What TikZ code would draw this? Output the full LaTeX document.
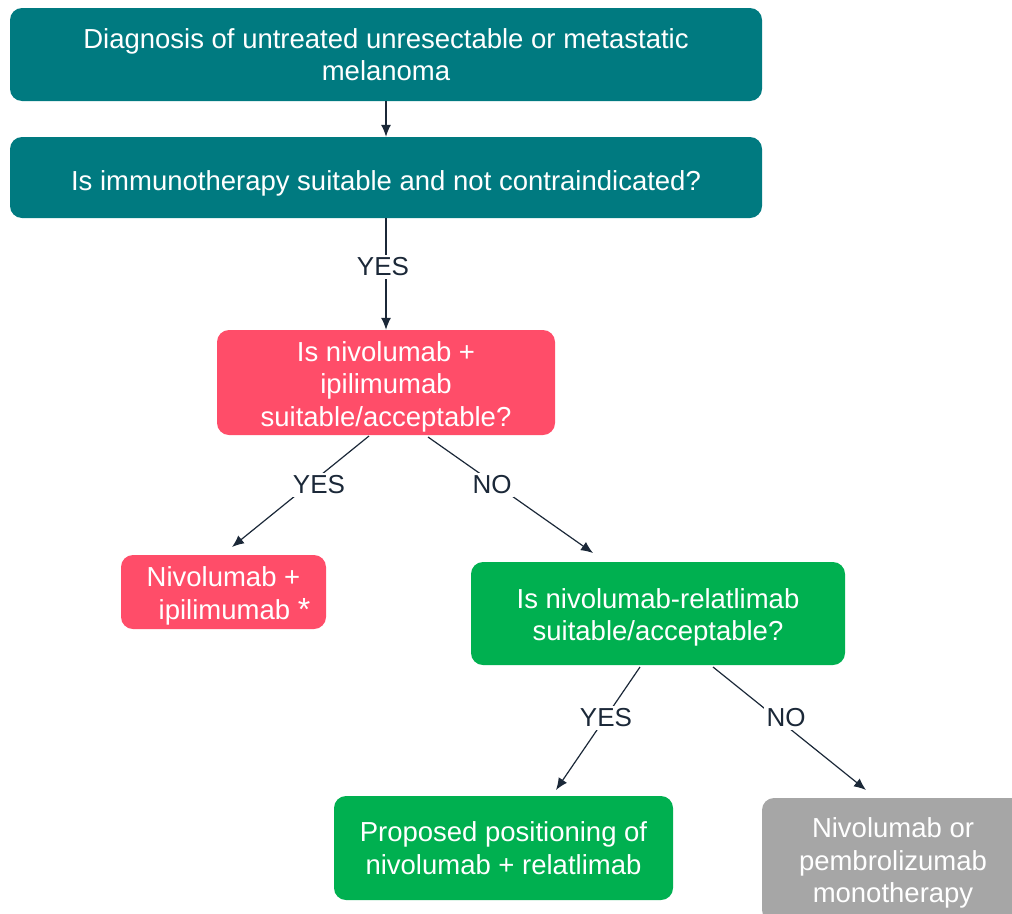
\documentclass[tikz,border=0pt]{standalone}
\usepackage{fontspec}
\setmainfont{Liberation Sans}
\usetikzlibrary{arrows.meta}
\definecolor{tealbox}{HTML}{007A80}
\definecolor{pinkbox}{HTML}{FF4D69}
\definecolor{greenbox}{HTML}{00B050}
\definecolor{greybox}{HTML}{A6A6A6}
\definecolor{navy}{HTML}{1B2838}
\newcommand{\topstrut}[1]{\rule{0pt}{#1pt}}
\begin{document}
\begin{tikzpicture}[x=1pt,y=-1pt,
  box/.style={rounded corners=12pt, text=white, align=center,
    font=\fontsize{27.5}{32.5}\selectfont, inner sep=0pt, draw=none},
  lab/.style={font=\fontsize{26}{30}\selectfont, text=navy, fill=white, inner sep=2.5pt},
  conn/.style={draw=navy, line width=1.2pt},
  arr/.style={conn, -{Latex[length=12pt,width=10pt]}}]
\useasboundingbox (0,0) rectangle (1012,913);
\clip (0,0) rectangle (1012,913);
% boxes
\node[box, fill=tealbox, minimum width=752pt, minimum height=93pt] (diag) at (386,54.5)
  {Diagnosis of untreated unresectable or metastatic\\melanoma};
\node[box, fill=tealbox, minimum width=752pt, minimum height=81pt] (immuno) at (386,177.5)
  {\topstrut{32}Is immunotherapy suitable and not contraindicated?};
\node[box, fill=pinkbox, minimum width=338pt, minimum height=105pt] (nivipiq) at (386,382.5)
  {\topstrut{28}Is nivolumab +\\ipilimumab\\suitable/acceptable?};
\node[box, fill=pinkbox, minimum width=205pt, minimum height=74pt] (nivipi) at (223.5,592)
  {\topstrut{28}Nivolumab +\\\hspace*{22pt}ipilimumab {\fontsize{32}{32}\selectfont\raisebox{-1pt}{*}}};
\node[box, fill=greenbox, minimum width=374pt, minimum height=103pt] (relq) at (658,613.5)
  {\topstrut{28}Is nivolumab-relatlimab\\suitable/acceptable?};
\node[box, fill=greenbox, minimum width=339pt, minimum height=104pt] (rel) at (503.5,848)
  {Proposed positioning of\\nivolumab + relatlimab};
\node[box, fill=greybox, minimum width=262pt, minimum height=124pt] (mono) at (893,860)
  {\topstrut{26}Nivolumab or\\pembrolizumab\\monotherapy};
% connector end points
\coordinate (s1) at (369,436);
\coordinate (e1) at (232,547);
\coordinate (s2) at (428,437);
\coordinate (e2) at (593,553);
\coordinate (s3) at (640,667);
\coordinate (e3) at (556,790);
\coordinate (s4) at (713,667);
\coordinate (e4) at (866,790);
% connectors
\draw[arr] (diag.south) -- (immuno.north);
\draw[arr] (immuno.south) -- (nivipiq.north);
\draw[arr] (s1) -- (e1);
\draw[arr] (s2) -- (e2);
\draw[arr] (s3) -- (e3);
\draw[arr] (s4) -- (e4);
% labels
\node[lab] (l0) at (383,267) {YES};
\node[lab] (l1) at (319,485) {YES};
\node[lab] (l2) at (492,485) {NO};
\node[lab] (l3) at (606,718) {YES};
\node[lab] (l4) at (786,718) {NO};
\end{tikzpicture}
\end{document}
